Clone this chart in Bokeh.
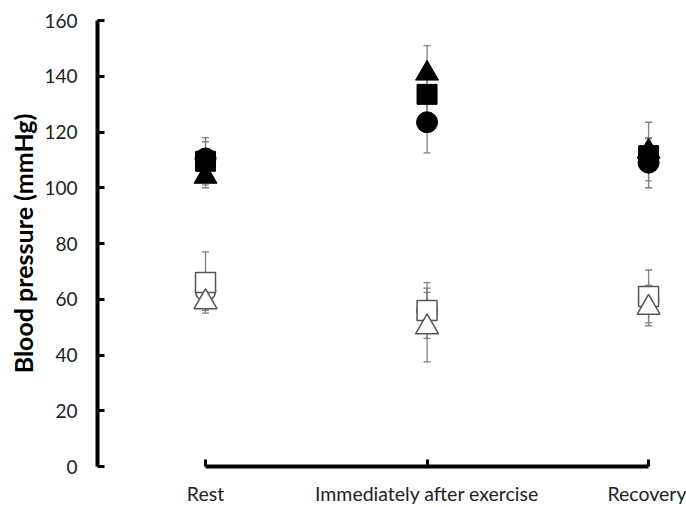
from bokeh.plotting import figure
from bokeh.models import Whisker, ColumnDataSource, FixedTicker, Range1d, TeeHead
from bokeh.embed import file_html
from bokeh.resources import INLINE

phases = ["Rest", "Immediately after exercise", "Recovery"]
xpos = [0, 1, 2]
y_ticks = [0, 20, 40, 60, 80, 100, 120, 140, 160]

# systolic (filled markers)
sys_circle = [110.5, 123.5, 109.0]
sys_square = [109.5, 133.5, 111.5]
sys_triangle = [104.0, 141.0, 113.0]
sys_circle_err = [6.0, 11.0, 9.0]
sys_square_err = [8.5, 8.0, 6.0]
sys_triangle_err = [4.0, 10.0, 10.5]

# diastolic (open markers)
dia_circle = [63.0, 56.0, 60.0]
dia_square = [66.0, 56.0, 61.0]
dia_triangle = [59.0, 50.0, 57.0]
dia_circle_err = [4.0, 8.0, 5.0]
dia_square_err = [11.0, 10.0, 9.5]
dia_triangle_err = [3.0, 12.5, 6.5]

FONT = "Lato"

p = figure(width=686, height=507,
           x_range=Range1d(-0.4876, 2.126), y_range=Range1d(0, 160),
           output_backend="svg", toolbar_location=None,
           min_border_left=97, min_border_top=20, min_border_bottom=40,
           min_border_right=10)
p.outline_line_color = None
p.grid.visible = False
p.background_fill_color = "white"
p.border_fill_color = "white"

# axes
ya = p.yaxis[0]
ya.ticker = FixedTicker(ticks=y_ticks)
ya.bounds = (0, 160)
ya.axis_line_width = 4
ya.axis_line_color = "black"
ya.major_tick_in = 7
ya.major_tick_out = 0
ya.major_tick_line_width = 3
ya.minor_tick_line_color = None
ya.major_label_standoff = 20
ya.major_label_text_font = FONT
ya.major_label_text_font_size = "19px"
ya.major_label_text_color = "#222222"
ya.axis_label = "Blood pressure (mmHg)"
ya.axis_label_text_font = FONT
ya.axis_label_text_font_style = "bold"
ya.axis_label_text_font_size = "25px"
ya.axis_label_text_color = "black"
ya.axis_label_standoff = 3

xa = p.xaxis[0]
xa.ticker = FixedTicker(ticks=xpos)
xa.major_label_overrides = {x: lab for x, lab in zip(xpos, phases)}
xa.bounds = (0, 2)
xa.axis_line_width = 4
xa.axis_line_color = "black"
xa.major_tick_in = 7
xa.major_tick_out = 0
xa.major_tick_line_width = 3
xa.minor_tick_line_color = None
xa.major_label_standoff = 15
xa.major_label_text_font = FONT
xa.major_label_text_font_size = "19.5px"
xa.major_label_text_color = "#222222"

ERR_COLOR = "#7f7f7f"

def add_err(vals, errs):
    src = ColumnDataSource(dict(x=xpos,
                                lo=[v - e for v, e in zip(vals, errs)],
                                hi=[v + e for v, e in zip(vals, errs)]))
    w = Whisker(source=src, base="x", lower="lo", upper="hi", dimension="height",
                line_color=ERR_COLOR, line_width=1.3,
                upper_head=TeeHead(size=7, line_color=ERR_COLOR, line_width=1.3),
                lower_head=TeeHead(size=7, line_color=ERR_COLOR, line_width=1.3),
                level="underlay")
    p.add_layout(w)

for vals, errs in [(dia_circle, dia_circle_err), (dia_square, dia_square_err),
                   (dia_triangle, dia_triangle_err), (sys_triangle, sys_triangle_err),
                   (sys_square, sys_square_err), (sys_circle, sys_circle_err)]:
    add_err(vals, errs)

OPEN_LINE = "#555555"
p.scatter(xpos, dia_circle, marker="circle", size=20, fill_color="white",
          line_color=OPEN_LINE, line_width=1.5)
p.scatter(xpos, dia_square, marker="square", size=20, fill_color="white",
          line_color=OPEN_LINE, line_width=1.5)
p.scatter(xpos, dia_triangle, marker="triangle", size=23, fill_color="white",
          line_color=OPEN_LINE, line_width=1.5)

p.scatter(xpos, sys_triangle, marker="triangle", size=23, fill_color="black",
          line_color="black")
p.scatter(xpos, sys_square, marker="square", size=20, fill_color="black",
          line_color="black")
p.scatter(xpos, sys_circle, marker="circle", size=21, fill_color="black",
          line_color="black")

open("out.html", "w").write(file_html(p, INLINE))
